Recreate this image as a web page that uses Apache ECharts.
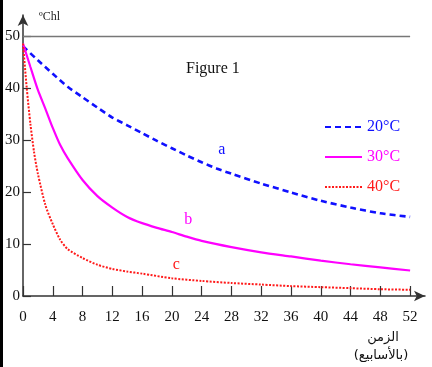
<!DOCTYPE html>
<html><head><meta charset="utf-8">
<script src="https://cdn.jsdelivr.net/npm/echarts@6/dist/echarts.min.js"></script>
<style>html,body{margin:0;padding:0;background:#fff}#c{width:432px;height:367px}</style>
</head><body><div id="c"></div>
<script>
// Data
var xTicks = [0,4,8,12,16,20,24,28,32,36,40,44,48,52];
var yTicks = [0,10,20,30,40,50];
var seriesNames = ['20°C','30°C','40°C'];
var curveLabels = ['a','b','c'];

var weeksA = [0,2,4,6,8,10,12,14,16,18,20,22,24,26,28,32,36,40,44,48,52];
var chlA   = [48,45.3,42.7,40.2,38.2,36.2,34.3,32.8,31.3,29.8,28.4,27,25.7,24.5,23.5,21.6,19.9,18.3,17,15.9,15.2];

var weeksB = [0,1,2,3,4,5,6,8,10,12,14,16,18,20,22,24,28,32,36,40,44,48,52];
var chlB   = [48.5,44,39.6,36,32.3,29,26.5,22.3,19.2,17,15.2,14,13.1,12.3,11.4,10.6,9.4,8.4,7.6,6.8,6.1,5.5,4.9];

var weeksC = [0,0.5,1,1.5,2,3,4,5,6,8,10,12,14,16,20,24,28,32,36,40,44,48,52];
var chlC   = [48.5,40,33,27.5,23.5,17.5,13.8,10.8,9,7.3,6,5.2,4.7,4.3,3.4,2.9,2.5,2.2,1.9,1.7,1.5,1.3,1.2];

var labelPos = [[26.7,28],[22.2,14.6],[20.6,6]];

function pairs(xs, ys){ return xs.map(function(x,i){return [x, ys[i]];}); }

var colors = ['#1010ff','#ff00ff','#ff1a1a'];
var serif = 'Liberation Serif';

var chart = echarts.init(document.getElementById('c'));
var frameLine = {
  silent: true, symbol: ['none','none'], label:{show:false},
  lineStyle:{color:'#777', width:1.3, type:'solid'},
  data: [
    [{coord:[0,50]},{coord:[52,50]}],
    [{coord:[52,-0.2]},{coord:[52,50]}]
  ]
};
function mk(i, xs, ys, lineType, width){
  var s = {
    name: seriesNames[i], type:'line', data: pairs(xs, ys),
    showSymbol:false, symbol:'none', smooth:0.25,
    lineStyle:{color:colors[i], width:width, type:lineType},
    itemStyle:{color:colors[i]},
    markPoint:{
      silent:true, symbol:'circle', symbolSize:0,
      data:[{coord:labelPos[i], value:curveLabels[i]}],
      label:{show:true, formatter:curveLabels[i], color:colors[i], fontFamily:serif, fontSize:16, position:'inside'}
    }
  };
  if (i === 0) s.markLine = frameLine;
  return s;
}

chart.setOption({
  animation:false,
  backgroundColor:'#fff',
  grid:{left:23, right:7, top:15, bottom:71, show:false},
  title:[
    {text:'Figure 1', left:181, top:56, textStyle:{fontFamily:serif, fontSize:16, fontWeight:'normal', color:'#111'}},
    {text:'ºChl', left:34, top:6, textStyle:{fontFamily:'Liberation Sans Narrow', fontSize:12, fontWeight:'normal', color:'#222'}},
    {text:'الزمن', left:378, top:326, textAlign:'center', textStyle:{fontFamily:'DejaVu Sans', fontSize:13, fontWeight:'normal', color:'#111'}},
    {text:'(بالأسابيع)', left:376, top:344, textAlign:'center', textStyle:{fontFamily:'DejaVu Sans', fontSize:13, fontWeight:'normal', color:'#111'}}
  ],
  legend:{
    orient:'vertical', left:319, top:114, itemWidth:37, itemHeight:14, itemGap:14,
    itemStyle:{opacity:0},
    data: seriesNames.map(function(n,i){return {name:n, textStyle:{color:colors[i]}};}),
    textStyle:{fontFamily:serif, fontSize:16}
  },
  xAxis:{
    type:'value', min:0, max:54, interval:4,
    axisLine:{show:true, lineStyle:{color:'#333', width:1.5}, symbol:['none','arrow'], symbolSize:[8,11]},
    axisTick:{show:true, inside:true, length:10, customValues:xTicks, lineStyle:{color:'#333', width:1.2}},
    axisLabel:{customValues:xTicks, margin:14, fontFamily:serif, fontSize:15, color:'#111'},
    splitLine:{show:false}
  },
  yAxis:{
    type:'value', min:0, max:54, interval:10,
    axisLine:{show:true, lineStyle:{color:'#333', width:1.5}, symbol:['none','arrow'], symbolSize:[8,11]},
    axisTick:{show:true, inside:true, length:8, customValues:yTicks, lineStyle:{color:'#333', width:1.2}},
    axisLabel:{customValues:yTicks, margin:3, fontFamily:serif, fontSize:15, color:'#111'},
    splitLine:{show:false}
  },
  graphic:[{type:'rect', left:0, top:0, shape:{x:0,y:0,width:3,height:367}, style:{fill:'#000'}, silent:true}],
  series:[
    mk(0, weeksA, chlA, [6,4], 2.6),
    mk(1, weeksB, chlB, 'solid', 2.2),
    mk(2, weeksC, chlC, [2,1.5], 2)
  ]
});
</script></body></html>
